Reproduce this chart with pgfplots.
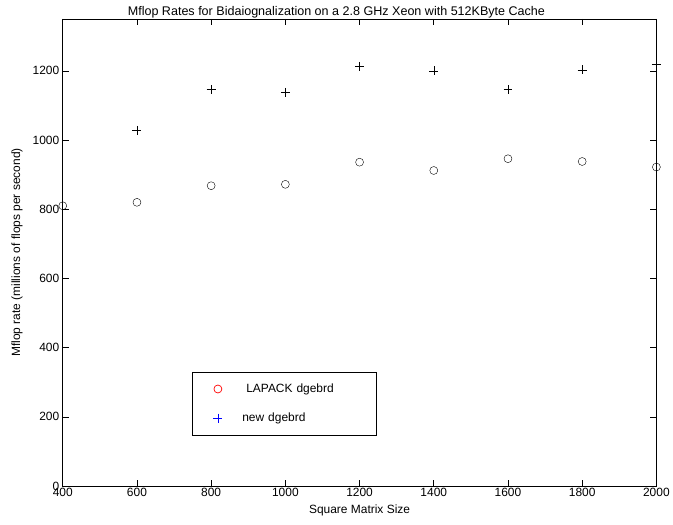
\documentclass[border=0pt]{standalone}
\usepackage{pgfplots}
\pgfplotsset{compat=1.18}
\usepackage{fontspec}
\setmainfont{Liberation Sans}
\begin{document}
\begin{tikzpicture}
\begin{axis}[
  scale only axis,
  width=596pt, height=469pt,
  xmin=400, xmax=2000, ymin=0, ymax=1350,
  xtick={400,600,...,2000}, ytick={0,200,...,1200},
  tick align=inside, tick pos=both,
  major tick length=6pt,
  every tick/.style={black, line width=0.6pt},
  axis line style={line width=0.7pt},
  /pgf/number format/assume math mode=true,
  /pgf/number format/1000 sep={},
  tick label style={font=\fontsize{12}{14}\selectfont},
  xticklabel style={yshift=1pt},
  label style={font=\fontsize{12}{14}\selectfont},
  xlabel={Square Matrix Size},
  ylabel={Mflop rate (millions of flops per second)},
  xlabel style={at={(axis description cs:0.5,-0.052)}, anchor=center},
  ylabel style={at={(axis description cs:-0.077,0.5)}, anchor=center},
  clip=false,
  legend style={at={(0.218,0.245)}, anchor=north west, draw=black, line width=0.7pt,
    font=\fontsize{12}{14}\selectfont, inner xsep=21pt, inner ysep=10pt, row sep=15pt,
    text width=112pt,
    /tikz/every odd column/.append style={column sep=18pt}},
  legend cell align=left,
]
\addlegendimage{only marks, mark=o, red, mark size=4pt}
\addlegendentry{\ LAPACK dgebrd}
\addlegendimage{only marks, mark=+, blue, mark size=4.5pt}
\addlegendentry{new dgebrd}
\addplot[only marks, mark=o, black, mark size=4pt, forget plot] coordinates {
(400,810) (600,820) (800,868) (1000,872) (1200,936) (1400,912) (1600,946) (1800,938) (2000,922)};
\addplot[only marks, mark=+, black, mark size=4.5pt, forget plot] coordinates {
(600,1028) (800,1146) (1000,1138) (1200,1213) (1400,1200) (1600,1146) (1800,1203) (2000,1220)};
\node[font=\fontsize{12.6}{14}\selectfont, anchor=center] at (rel axis cs:0.461,1) [yshift=7pt] {Mflop Rates for Bidaiognalization on a 2.8 GHz Xeon with 512KByte Cache};
\path (rel axis cs:0,0) ++(-63pt,-39pt) coordinate (bbsw);
\path (rel axis cs:1,1) ++(14pt,19pt) coordinate (bbne);
\end{axis}
\useasboundingbox (bbsw) rectangle (bbne);
\end{tikzpicture}
\end{document}
